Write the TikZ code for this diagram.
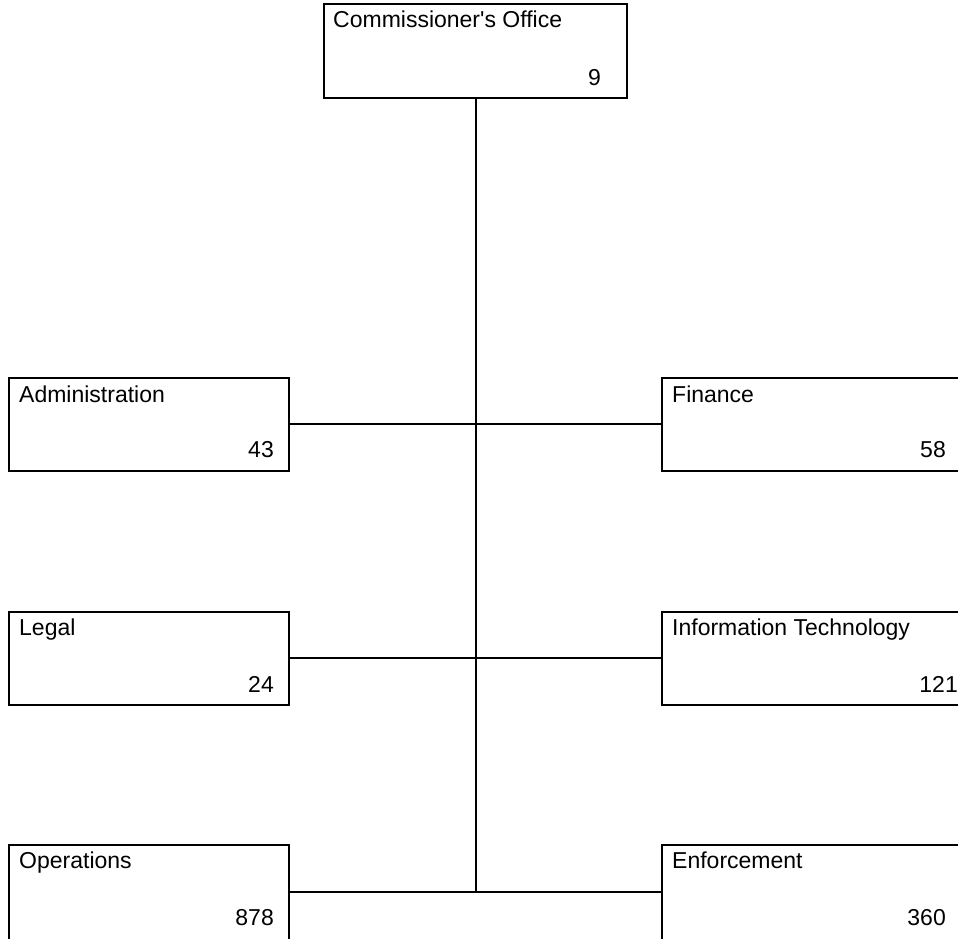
\documentclass[tikz,border=0pt]{standalone}
\usepackage{fontspec}
\setmainfont{Liberation Sans}
\newfontfamily\boxfont{Liberation Sans}
\begin{document}
\begin{tikzpicture}[x=1pt,y=-1pt,
  unit/.style={draw=black,line width=1.3pt,fill=white},
  conn/.style={draw=black,line width=1.3pt},
  lbl/.style={inner sep=0pt,anchor=base west,font=\boxfont\fontsize{23}{27}\selectfont},
  num/.style={inner sep=0pt,anchor=base east,font=\boxfont\fontsize{23}{27}\selectfont}]
\useasboundingbox (0,0) rectangle (958,938);
\clip (0,0) rectangle (958,938);
% connectors
\coordinate (spine) at (476,892);
\coordinate (topb) at (476,98);
\draw[conn] (topb) -- (spine);
% boxes
\draw[unit] (324,4) rectangle (627,98);
\node[lbl] (tl) at (333,27) {Commissioner's Office};
\node[num] (tn) at (601,85) {9};

\draw[unit] (9,378) rectangle (289,471);
\coordinate (adm) at (289,424);
\node[lbl] (al) at (19,402) {Administration};
\node[num] (an) at (274,457) {43};

\draw[unit] (662,378) rectangle (975,471);
\coordinate (fin) at (662,424);
\node[lbl] (fl) at (672,402) {Finance};
\node[num] (fn) at (946,457) {58};

\draw[unit] (9,612) rectangle (289,705);
\coordinate (leg) at (289,658);
\node[lbl] (ll) at (19,635) {Legal};
\node[num] (ln) at (274,692) {24};

\draw[unit] (662,612) rectangle (975,705);
\coordinate (it) at (662,658);
\node[lbl] (il) at (672,635) {Information Technology};
\node[num] (in) at (958,692) {121};

\draw[unit] (9,845) rectangle (289,945);
\coordinate (ops) at (289,892);
\node[lbl] (ol) at (19,868) {Operations};
\node[num] (on) at (274,925) {878};

\draw[unit] (662,845) rectangle (975,945);
\coordinate (enf) at (662,892);
\node[lbl] (el) at (672,868) {Enforcement};
\node[num] (en) at (946,925) {360};

\draw[conn] (adm) -- (fin);
\draw[conn] (leg) -- (it);
\draw[conn] (ops) -- (enf);
\end{tikzpicture}
\end{document}
